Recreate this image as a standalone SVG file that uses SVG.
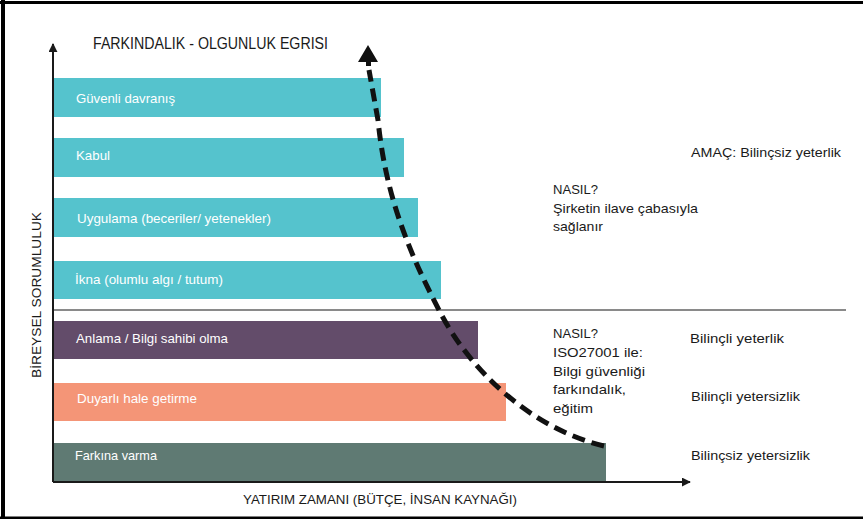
<svg xmlns="http://www.w3.org/2000/svg" width="863" height="519" viewBox="0 0 863 519">
<defs>
<style>
.lbl{font-family:"Liberation Sans",Arial,sans-serif;font-size:13.5px;fill:#ffffff}
.txt{font-family:"Liberation Sans",Arial,sans-serif;font-size:13.5px;fill:#1a1a1a}
.ttl{font-family:"Liberation Sans",Arial,sans-serif;font-size:16.5px;fill:#1a1a1a}
.teal{fill:#55C3CD}
.axis{stroke:#1a1a1a;stroke-width:2;fill:none}
</style>
<marker id="ah" viewBox="0 0 10 10" refX="9" refY="5" markerWidth="4.5" markerHeight="4.5" orient="auto" markerUnits="strokeWidth">
<path d="M0,0 L10,5 L0,10 Z" fill="#1a1a1a"/>
</marker>
</defs>
<rect width="863" height="519" fill="#ffffff"/>
<g id="frame" stroke="#000" fill="none">
<line x1="0" y1="2.5" x2="863" y2="2.5" stroke-width="3"/>
<line x1="3" y1="0" x2="3" y2="519" stroke-width="4"/>
<line x1="0" y1="518" x2="863" y2="518" stroke-width="3"/>
</g>
<text class="ttl" x="93" y="49" textLength="235" lengthAdjust="spacingAndGlyphs">FARKINDALIK - OLGUNLUK EGRISI</text>
<g id="bar-guvenli"><rect class="teal" x="54" y="78" width="327" height="39"/><text class="lbl" x="76" y="103" textLength="99" lengthAdjust="spacingAndGlyphs">Güvenli davranış</text></g>
<g id="bar-kabul"><rect class="teal" x="54" y="138" width="350" height="39"/><text class="lbl" x="76" y="160" textLength="34" lengthAdjust="spacingAndGlyphs">Kabul</text></g>
<g id="bar-uygulama"><rect class="teal" x="54" y="198" width="364" height="39"/><text class="lbl" x="77" y="223" textLength="194" lengthAdjust="spacingAndGlyphs">Uygulama (beceriler/ yetenekler)</text></g>
<g id="bar-ikna"><rect class="teal" x="54" y="261" width="387" height="38"/><text class="lbl" x="75" y="284" textLength="148" lengthAdjust="spacingAndGlyphs">İkna (olumlu algı / tutum)</text></g>
<line id="separator" x1="54" y1="310" x2="846" y2="310" stroke="#8a8a8a" stroke-width="2"/>
<g id="bar-anlama"><rect x="54" y="321" width="424" height="38" fill="#634C6A"/><text class="lbl" x="76" y="343" textLength="152" lengthAdjust="spacingAndGlyphs">Anlama / Bilgi sahibi olma</text></g>
<g id="bar-duyarli"><rect x="54" y="383" width="452" height="38" fill="#F49577"/><text class="lbl" x="77" y="403" textLength="120" lengthAdjust="spacingAndGlyphs">Duyarlı hale getirme</text></g>
<g id="bar-farkina"><rect x="54" y="443" width="552" height="39" fill="#5F7A73"/><text class="lbl" x="75" y="460" textLength="82" lengthAdjust="spacingAndGlyphs">Farkına varma</text></g>
<g id="connectors">
<line class="axis" x1="53" y1="482" x2="53" y2="44" marker-end="url(#ah)"/>
<line class="axis" x1="53" y1="482" x2="690" y2="482" marker-end="url(#ah)"/>
<path d="M604,446 C530,428 470,370 440,312 C405,245 385,190 378,120 L369,70" fill="none" stroke="#111" stroke-width="5" stroke-dasharray="13 7"/>
<polygon points="368,45 378,62 371,62 371,66 366,66 366,62 358,62" fill="#111"/>
</g>
<g id="axis-labels">
<text class="txt" x="243" y="504" textLength="274" lengthAdjust="spacingAndGlyphs">YATIRIM ZAMANI (BÜTÇE, İNSAN KAYNAĞI)</text>
<text class="txt" transform="translate(41,378) rotate(-90)" x="0" y="0" textLength="166" lengthAdjust="spacingAndGlyphs">BİREYSEL SORUMLULUK</text>
</g>
<g id="notes">
<text class="txt" x="691" y="157" textLength="150" lengthAdjust="spacingAndGlyphs">AMAÇ: Bilinçsiz yeterlik</text>
<text class="txt" x="553" y="194" textLength="45" lengthAdjust="spacingAndGlyphs">NASIL?</text>
<text class="txt" x="553" y="213" textLength="145" lengthAdjust="spacingAndGlyphs">Şirketin ilave çabasıyla</text>
<text class="txt" x="553" y="231" textLength="50" lengthAdjust="spacingAndGlyphs">sağlanır</text>
<text class="txt" x="553" y="338" textLength="45" lengthAdjust="spacingAndGlyphs">NASIL?</text>
<text class="txt" x="553" y="357" textLength="90" lengthAdjust="spacingAndGlyphs">ISO27001 ile:</text>
<text class="txt" x="553" y="376" textLength="92" lengthAdjust="spacingAndGlyphs">Bilgi güvenliği</text>
<text class="txt" x="553" y="394" textLength="73" lengthAdjust="spacingAndGlyphs">farkındalık,</text>
<text class="txt" x="553" y="413" textLength="40" lengthAdjust="spacingAndGlyphs">eğitim</text>
<text class="txt" x="690" y="343" textLength="94" lengthAdjust="spacingAndGlyphs">Bilinçli yeterlik</text>
<text class="txt" x="691" y="401" textLength="109" lengthAdjust="spacingAndGlyphs">Bilinçli yetersizlik</text>
<text class="txt" x="691" y="460" textLength="119" lengthAdjust="spacingAndGlyphs">Bilinçsiz yetersizlik</text>
</g>
</svg>
